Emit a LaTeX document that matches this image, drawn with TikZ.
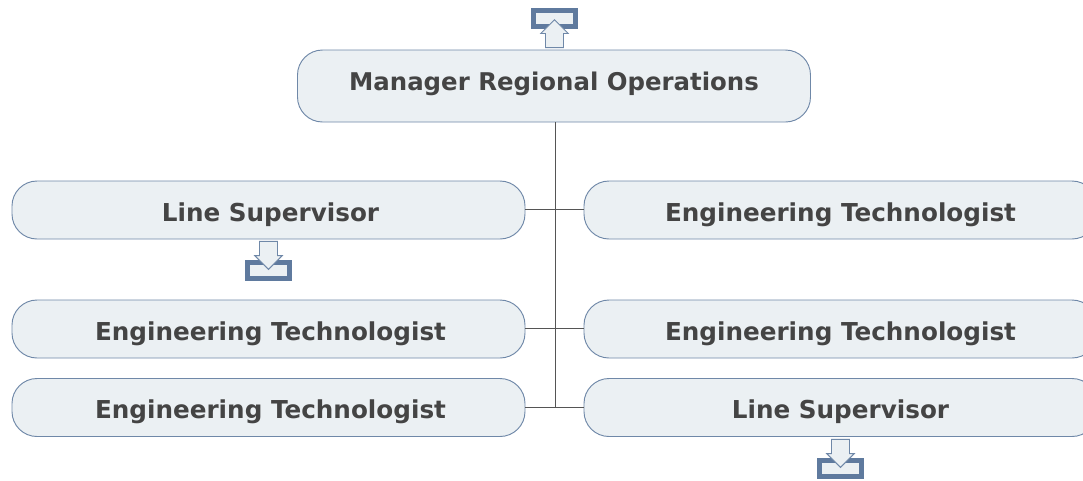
\documentclass[tikz,border=0pt]{standalone}
\usepackage{fontspec}
\setsansfont{DejaVu Sans}
\usetikzlibrary{shapes.arrows}
\definecolor{boxFill}{HTML}{EBF0F3}
\definecolor{boxLine}{HTML}{6F88A8}
\definecolor{frameLine}{HTML}{5F7A9E}
\definecolor{textDark}{HTML}{444444}
\definecolor{lineDark}{HTML}{555555}
\tikzset{%
  % Specifications for style of nodes:
        base/.style = {rectangle, rounded corners=18.75pt, draw=boxLine, fill=boxFill,
                       line width=0.7pt, text=textDark, text centered,
                       minimum width=384.75pt, minimum height=43.5pt,
                       text height=16.5pt, text depth=0pt,
                       font=\sffamily\bfseries\fontsize{18.5}{22}\selectfont},
     manager/.style = {base, minimum height=54pt, text height=6pt,
                       font=\sffamily\bfseries\fontsize{18.3}{22}\selectfont},
    leftCard/.style = {base, execute at begin node={\hspace*{3pt}}},
   stubFrame/.style = {rectangle, draw=frameLine, fill=boxFill, line width=3.75pt,
                       minimum width=31.5pt, minimum height=12pt, inner sep=0pt},
   stubArrow/.style = {single arrow, draw=boxLine, fill=boxFill, line width=0.7pt,
                       inner xsep=0pt, inner ysep=6.4pt, text height=0pt, text depth=0pt,
                       single arrow head extend=3.6pt, minimum height=21pt, anchor=tip},
        link/.style = {draw=lineDark, line width=0.75pt},
}
\begin{document}
\begin{tikzpicture}[x=0.75pt, y=-0.75pt]
  \useasboundingbox (0,0) rectangle (1083,480);

  % Specification of nodes (position, etc.)
  \node (manager)   [manager]  at (554,86)    {Manager Regional Operations};
  \node (supLeft)   [leftCard] at (268.5,210) {Line Supervisor};
  \node (techLeftA) [leftCard] at (268.5,329) {Engineering Technologist};
  \node (techLeftB) [leftCard] at (268.5,407.5) {Engineering Technologist};
  \node (techRightA)[base]     at (840.5,210) {Engineering Technologist};
  \node (techRightB)[base]     at (840.5,329) {Engineering Technologist};
  \node (supRight)  [base]     at (840.5,407.5) {Line Supervisor};

  % Frames with their small arrows
  \node (frameTop)   [stubFrame] at (554.5,18.5)  {};
  \node (arrowTop)   [stubArrow, rotate=90]  at (554.5,19)  {};
  \node (frameLeft)  [stubFrame] at (268.5,270.5) {};
  \node (arrowLeft)  [stubArrow, rotate=-90] at (268.5,270) {};
  \node (frameRight) [stubFrame] at (840.5,468.5) {};
  \node (arrowRight) [stubArrow, rotate=-90] at (840.5,468) {};

  % Specification of lines between nodes specified above
  \coordinate (trunkEnd) at (555,407.5);
  \draw[link] (manager.south -| trunkEnd) -- (trunkEnd);
  \draw[link] ([yshift=.6pt]supLeft.east) -- ([yshift=.6pt]techRightA.west);
  \draw[link] ([yshift=.5pt]techLeftA.east) -- ([yshift=.5pt]techRightB.west);
  \draw[link] (techLeftB) -- (supRight);
\end{tikzpicture}
\end{document}
